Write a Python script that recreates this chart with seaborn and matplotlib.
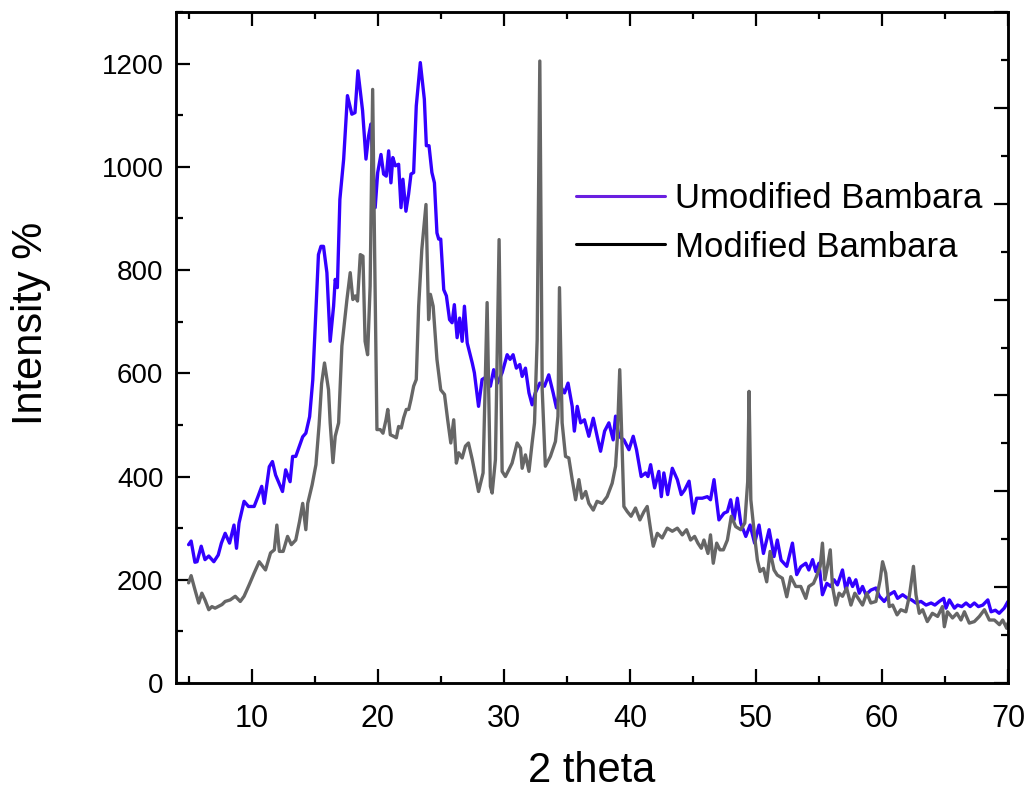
import numpy as np
import pandas as pd
import seaborn as sns
import matplotlib.pyplot as plt
from matplotlib.lines import Line2D
from matplotlib.ticker import MultipleLocator

# 2 theta / intensity
THETA_UNMOD = [
    5.0, 5.2, 5.5, 5.67, 6.0, 6.3, 6.6, 7.0, 7.35, 7.6, 7.9, 8.25, 8.6, 8.8, 9.0, 9.4, 9.75,
    10.2, 10.5, 10.8, 11.0, 11.4, 11.65, 11.9, 12.45, 12.7, 13.05, 13.25, 13.5, 14.05, 14.3,
    14.6, 14.85, 15.1, 15.3, 15.5, 15.7, 15.97, 16.23, 16.5, 16.63, 16.8, 17.0, 17.3, 17.6,
    17.95, 18.2, 18.43, 18.8, 19.07, 19.28, 19.46, 19.8, 20.0, 20.26, 20.47, 20.68, 20.87,
    21.05, 21.2, 21.4, 21.66, 21.85, 22.0, 22.24, 22.45, 22.64, 22.85, 23.06, 23.38, 23.7,
    23.86, 24.07, 24.3, 24.5, 24.7, 24.84, 25.0, 25.24, 25.45, 25.7, 25.9, 26.08, 26.3, 26.5,
    26.7, 26.88, 27.1, 27.5, 27.67, 28.0, 28.28, 28.68, 28.94, 29.2, 29.5, 29.87, 30.27, 30.5,
    30.74, 31.0, 31.27, 31.46, 31.72, 32.0, 32.25, 32.5, 32.86, 33.23, 33.57, 33.92, 34.18,
    34.5, 34.82, 35.1, 35.43, 35.6, 35.83, 36.1, 36.4, 36.75, 37.1, 37.47, 37.68, 38.0, 38.34,
    38.68, 38.87, 39.13, 39.53, 39.93, 40.27, 40.53, 40.9, 41.25, 41.44, 41.65, 41.97, 42.3,
    42.5, 42.7, 43.0, 43.37, 43.77, 44.08, 44.35, 44.7, 45.04, 45.3, 45.75, 46.15, 46.4, 46.68,
    47.07, 47.47, 47.74, 48.0, 48.27, 48.53, 48.8, 49.2, 49.54, 49.9, 50.25, 50.6, 51.05,
    51.44, 51.7, 52.0, 52.45, 52.9, 53.24, 53.56, 53.96, 54.2, 54.5, 54.75, 55.0, 55.28,
    55.63, 55.95, 56.2, 56.47, 56.87, 57.14, 57.4, 57.67, 57.93, 58.2, 58.46, 58.73, 59.12,
    59.52, 59.8, 60.18, 60.58, 60.98, 61.24, 61.64, 62.04, 62.35, 62.7, 63.1, 63.5, 63.9,
    64.2, 64.55, 64.9, 65.08, 65.35, 65.75, 66.0, 66.33, 66.67, 67.0, 67.33, 67.65, 68.0,
    68.4, 68.66, 69.0, 69.3, 69.7, 70.0,
]
INT_UNMOD = [
    268, 275, 234, 235, 265, 239, 246, 235, 248, 271, 290, 271, 306, 261, 310, 352, 342,
    342, 361, 381, 348, 419, 429, 403, 371, 413, 390, 439, 439, 477, 484,
    516, 587, 720, 830, 846, 846, 795, 662, 730, 782, 766, 937, 1015, 1138,
    1102, 1105, 1186, 1109, 1015, 1060, 1083, 921, 989, 1024, 986, 982, 1031,
    969, 1018, 1002, 1005, 921, 976, 914, 947, 986, 989, 1118, 1202, 1131,
    1041, 1041, 989, 969, 872, 860, 860, 762, 750, 704, 698, 733, 669, 707,
    662, 730, 659, 620, 601, 536, 588, 594, 575, 607, 581, 601, 636, 627,
    636, 610, 617, 594, 610, 562, 539, 562, 581, 575, 597, 562, 533,
    575, 562, 581, 536, 488, 536, 504, 510, 478, 513, 471, 449, 488, 504,
    471, 517, 478, 471, 452, 478, 452, 400, 407, 400, 423, 378, 410,
    361, 407, 365, 416, 394, 365, 374, 391, 329, 358, 358, 361, 355, 394,
    316, 329, 332, 355, 316, 358, 310, 284, 306, 271, 306, 251, 297,
    245, 277, 238, 226, 271, 210, 225, 232, 219, 239, 216, 232, 171,
    193, 187, 200, 190, 219, 180, 203, 187, 200, 174, 187, 171, 180,
    184, 168, 158, 171, 177, 164, 171, 164, 161, 155, 158, 151, 155,
    151, 158, 164, 145, 161, 145, 151, 148, 155, 148, 155, 148, 151,
    161, 138, 141, 135, 145, 158,
]

THETA_MOD = [
    5.0, 5.2, 5.5, 5.8, 6.05, 6.3, 6.6, 6.85, 7.1, 7.65, 7.9, 8.3, 8.7, 9.1, 9.4, 9.8, 10.2,
    10.6, 11.1, 11.5, 11.8, 12.0, 12.2, 12.5, 12.85, 13.15, 13.5, 13.8, 14.05, 14.3, 14.45,
    14.8, 15.1, 15.35, 15.55, 15.78, 16.1, 16.23, 16.45, 16.63, 16.9, 17.16, 17.56, 17.82,
    18.03, 18.22, 18.4, 18.62, 18.83, 19.0, 19.2, 19.4, 19.6, 19.75, 19.94, 20.2, 20.42,
    20.66, 20.8, 21.0, 21.26, 21.48, 21.66, 21.87, 22.06, 22.27, 22.46, 22.64, 22.85, 23.06,
    23.25, 23.5, 23.83, 24.04, 24.18, 24.4, 24.7, 25.0, 25.3, 25.55, 25.8, 26.03, 26.24,
    26.43, 26.7, 26.96, 27.2, 27.5, 28.0, 28.36, 28.68, 28.94, 29.08, 29.34, 29.63, 29.87,
    30.13, 30.4, 30.66, 31.06, 31.33, 31.46, 31.72, 32.0, 32.25, 32.44, 32.65, 32.86, 33.05,
    33.3, 33.7, 34.1, 34.3, 34.42, 34.63, 34.9, 35.16, 35.43, 35.7, 35.96, 36.2, 36.5, 36.75,
    37.1, 37.4, 37.8, 38.2, 38.6, 38.87, 39.0, 39.2, 39.53, 39.8, 40.1, 40.45, 40.8, 41.12,
    41.38, 41.65, 41.86, 42.18, 42.57, 42.97, 43.37, 43.77, 44.16, 44.5, 44.82, 45.14, 45.4,
    45.67, 45.88, 46.2, 46.4, 46.62, 46.89, 47.15, 47.42, 47.74, 48.05, 48.4, 48.8, 49.12,
    49.35, 49.46, 49.6, 49.9, 50.12, 50.33, 50.6, 50.86, 51.13, 51.44, 51.7, 52.1, 52.45,
    52.77, 53.16, 53.56, 53.96, 54.2, 54.57, 54.8, 55.1, 55.28, 55.47, 55.68, 55.9, 56.08,
    56.35, 56.6, 56.87, 57.2, 57.54, 57.85, 58.2, 58.46, 58.8, 59.12, 59.52, 59.86, 60.05,
    60.3, 60.58, 60.85, 61.2, 61.5, 61.9, 62.17, 62.5, 62.7, 62.96, 63.23, 63.6, 64.0, 64.42,
    64.8, 64.95, 65.2, 65.6, 65.95, 66.27, 66.54, 66.93, 67.33, 67.73, 68.13, 68.52, 68.92,
    69.32, 69.58, 69.9, 70.0,
]
INT_MOD = [
    194, 208, 181, 155, 174, 161, 142, 148, 145, 152, 158, 161, 168, 158, 168, 190, 213,
    235, 219, 252, 258, 306, 255, 255, 284, 268, 277, 313, 348, 297, 348,
    384, 423, 500, 580, 620, 568, 504, 427, 478, 504, 653, 743, 795,
    743, 750, 740, 830, 827, 662, 636, 769, 1150, 846, 491, 491, 484,
    510, 530, 481, 478, 475, 497, 494, 514, 530, 530, 549, 575, 588,
    730, 840, 927, 704, 753, 730, 627, 568, 559, 510, 465, 510, 426,
    446, 436, 459, 465, 433, 371, 407, 737, 381, 368, 433, 859, 410,
    400, 413, 426, 465, 455, 416, 442, 410, 465, 504, 665, 1205, 568,
    420, 439, 468, 517, 766, 504, 439, 436, 394, 355, 394, 358, 371, 348,
    335, 352, 348, 361, 387, 420, 470, 607, 342, 332, 323, 339, 316, 332,
    342, 297, 265, 290, 281, 300, 294, 300, 287, 297, 277, 284, 271,
    261, 277, 251, 287, 232, 271, 258, 258, 277, 323, 303, 297, 310,
    390, 565, 355, 284, 238, 216, 222, 196, 255, 219, 209, 203, 167,
    206, 187, 187, 164, 187, 193, 206, 226, 271, 200, 226, 258, 187,
    151, 174, 168, 184, 151, 174, 161, 151, 174, 155, 158, 200, 235,
    213, 148, 151, 132, 142, 138, 168, 226, 171, 135, 142, 119, 135, 129,
    148, 109, 138, 126, 135, 122, 138, 116, 119, 129, 142, 122, 122,
    113, 122, 106, 116,
]

LABELS = ["Umodified Bambara", "Modified Bambara"]
LINE_COLORS = ["#3300ff", "#666666"]
LEGEND_COLORS = ["#6a1fe0", "#000000"]

df = pd.concat([
    pd.DataFrame({"theta": THETA_UNMOD, "intensity": INT_UNMOD, "sample": LABELS[0]}),
    pd.DataFrame({"theta": THETA_MOD, "intensity": INT_MOD, "sample": LABELS[1]}),
])

sns.set_style("ticks")
plt.rcParams["font.family"] = ["Liberation Sans", "DejaVu Sans"]
plt.rcParams.update({
    "text.color": "black", "axes.labelcolor": "black", "axes.edgecolor": "black",
    "xtick.color": "black", "ytick.color": "black",
})

fig = plt.figure(figsize=(10.3, 7.91), dpi=100)
ax = fig.add_axes([176 / 1030, 1 - 683 / 791, (1008 - 176) / 1030, (683 - 12) / 791])

sns.lineplot(data=df, x="theta", y="intensity", hue="sample", palette=LINE_COLORS,
             estimator=None, sort=False, linewidth=2.4, legend=False, ax=ax)

ax.set_xlim(4, 70)
ax.set_ylim(0, 1300)
ax.xaxis.set_major_locator(MultipleLocator(10))
ax.xaxis.set_minor_locator(MultipleLocator(5))
ax.yaxis.set_major_locator(MultipleLocator(200))
ax.yaxis.set_minor_locator(MultipleLocator(100))
ax.tick_params(which="both", direction="in", top=True, right=False, width=1.6)
ax.tick_params(which="major", length=10)
ax.tick_params(which="minor", length=5)
ax.tick_params(axis="y", labelsize=20, pad=9)
ax.tick_params(axis="x", labelsize=22, pad=15)
for sp in ax.spines.values():
    sp.set_linewidth(1.8)

# right axis in the original has its own (0-1400) tick spacing
ax2 = ax.twinx()
ax2.set_ylim(0, 1400)
ax2.yaxis.set_major_locator(MultipleLocator(200))
ax2.yaxis.set_minor_locator(MultipleLocator(100))
ax2.tick_params(which="both", direction="in", width=1.6, labelright=False)
ax2.tick_params(which="major", length=10)
ax2.tick_params(which="minor", length=5)
for sp in ax2.spines.values():
    sp.set_linewidth(1.8)

ax.set_xlabel("2 theta", fontsize=30, labelpad=12)
ax.set_ylabel("Intensity %", fontsize=30)
ax.yaxis.set_label_coords(-0.150, 0.536)

handles = [Line2D([], [], color=c, linewidth=2.2) for c in LEGEND_COLORS]
fig.legend(handles, LABELS, loc="upper left", bbox_to_anchor=(576 / 1030, 1 - 182 / 791),
           frameon=False, fontsize=25, handlelength=2.56, handletextpad=0.3,
           labelspacing=0.45, borderpad=0, borderaxespad=0)

fig.savefig("out.png", dpi=100)
